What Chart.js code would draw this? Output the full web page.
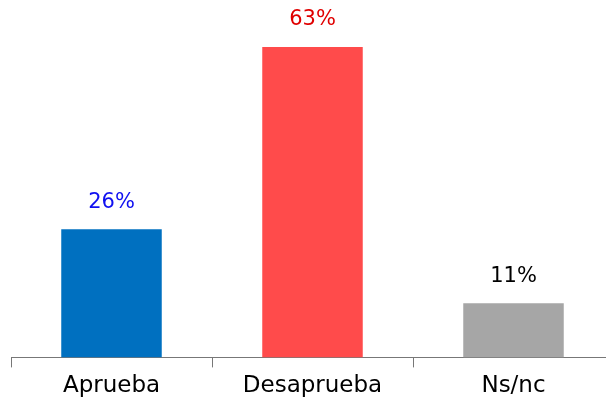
<!DOCTYPE html>
<html>
<head>
<meta charset="utf-8">
<script src="https://cdn.jsdelivr.net/npm/chart.js@4"></script>
<style>
    html, body { margin: 0; padding: 0; background: #fff; overflow: hidden; }
    #wrap { width: 606px; height: 408px; overflow: hidden; }
    #wrap div { width: 616px; height: 408px; position: relative; }
</style>
</head>
<body>
<div id="wrap"><div><canvas id="chart"></canvas></div></div>
<script>
const categories = ["Aprueba", "Desaprueba", "Ns/nc"];
const values = [26, 63, 11];
const barColors = ["#0070C0", "#FF4B4B", "#A6A6A6"];
const labelColors = ["#1010F0", "#E00000", "#000000"];

// Étiquettes de valeur au-dessus des barres
const valueLabels = {
    id: "valueLabels",
    afterDatasetsDraw(chart) {
        const ctx = chart.ctx;
        const meta = chart.getDatasetMeta(0);
        ctx.save();
        ctx.font = "21px 'DejaVu Sans'";
        ctx.textAlign = "center";
        ctx.textBaseline = "middle";
        meta.data.forEach((bar, i) => {
            ctx.fillStyle = labelColors[i];
            ctx.fillText(values[i] + "%", bar.x, bar.y - 27);
        });
        ctx.restore();
    }
};

new Chart(document.getElementById("chart"), {
    type: "bar",
    data: {
        labels: categories,
        datasets: [{
            data: values,
            backgroundColor: barColors,
            categoryPercentage: 1,
            barPercentage: 0.5,
        }],
    },
    options: {
        responsive: true,
        maintainAspectRatio: false,
        animation: false,
        layout: { padding: { top: 47, left: 11, right: 2, bottom: 3 } },
        plugins: { legend: { display: false }, tooltip: { enabled: false } },
        scales: {
            x: {
                offset: true,
                grid: {
                    offset: true,
                    drawOnChartArea: false,
                    tickLength: 10,
                    color: "#777",
                },
                border: { color: "#777", width: 1 },
                ticks: {
                    color: "#000",
                    font: { family: "DejaVu Sans", size: 23 },
                    padding: 5,
                },
            },
            y: {
                display: false,
                min: 0,
                max: 63,
            },
        },
    },
    plugins: [valueLabels],
});
</script>
</body>
</html>
